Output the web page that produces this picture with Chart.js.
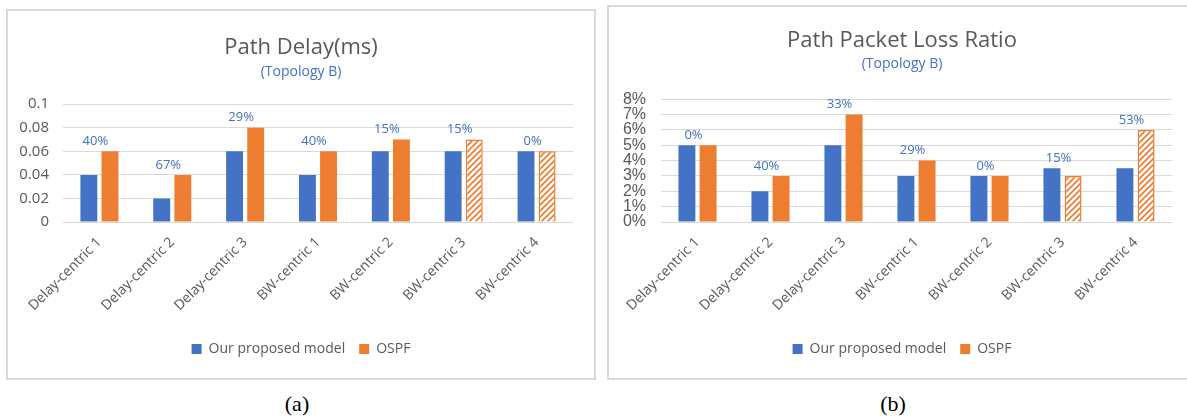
<!DOCTYPE html>
<html><head><meta charset="utf-8">
<script src="https://cdn.jsdelivr.net/npm/chart.js@4.4.0/dist/chart.umd.min.js"></script>
<style>
html,body{margin:0;padding:0;background:#fff;width:1187px;height:419px;overflow:hidden;position:relative;}
.box{position:absolute;border:2px solid #d9d9d9;box-sizing:border-box;background:#fff;overflow:hidden;}
.box canvas{position:absolute;left:0;top:0;}
.cap{position:absolute;font-family:"Liberation Serif",serif;font-size:22px;color:#000;transform:translateX(-50%);}
</style></head><body>
<div class="box" style="left:6px;top:9px;width:590px;height:371px;"><canvas id="cA" width="586" height="367" style="width:586px;height:367px"></canvas></div>
<div class="box" style="left:607px;top:5px;width:590px;height:375px;"><canvas id="cB" width="586" height="371" style="width:586px;height:371px"></canvas></div>
<div class="cap" style="left:297px;top:391px;">(a)</div>
<div class="cap" style="left:893px;top:391px;">(b)</div>
<script>
const categories = ['Delay-centric 1','Delay-centric 2','Delay-centric 3','BW-centric 1','BW-centric 2','BW-centric 3','BW-centric 4'];
const seriesNames = ['Our proposed model','OSPF'];
const delayProposed = [0.04,0.02,0.06,0.04,0.06,0.06,0.06];
const delayOSPF     = [0.06,0.04,0.08,0.06,0.07,0.07,0.06];
const delayGain     = ['40%','67%','29%','40%','15%','15%','0%'];
const lossProposed  = [5,2,5,3,3,3.5,3.5];
const lossOSPF      = [5,3,7,4,3,3,6];
const lossGain      = ['0%','40%','33%','29%','0%','15%','53%'];
const hatchedOSPF   = [false,false,false,false,false,true,true];
const delayTicks    = [0,0.02,0.04,0.06,0.08,0.1];
const lossTicks     = [0,1,2,3,4,5,6,7,8];

const BLUE='#4472C4', ORANGE='#ED7D31', GREY='#595959', GRID='#d9d9d9';
const FONT='"Open Sans", sans-serif';

function makeHatch(){
  const c=document.createElement('canvas'); c.width=6; c.height=6;
  const g=c.getContext('2d');
  g.fillStyle='#fff'; g.fillRect(0,0,6,6);
  g.strokeStyle=ORANGE; g.lineWidth=1.7;
  g.beginPath();
  g.moveTo(-1,7); g.lineTo(7,-1);
  g.moveTo(-4,4); g.lineTo(4,-4);
  g.moveTo(2,10); g.lineTo(10,2);
  g.stroke();
  return g.createPattern(c,'repeat');
}
const hatch = makeHatch();

const gainLabels = {
  id:'gainLabels',
  afterDatasetsDraw(chart, args, opts){
    const {ctx, scales:{x,y}} = chart;
    const a = chart.data.datasets[0].data, b = chart.data.datasets[1].data;
    ctx.save();
    ctx.font = '13px '+FONT; ctx.fillStyle = BLUE;
    ctx.textAlign='center'; ctx.textBaseline='middle';
    opts.labels.forEach((t,i)=>{
      const top = y.getPixelForValue(Math.max(a[i],b[i]));
      ctx.fillText(t, x.getPixelForValue(i)-4, top-10);
    });
    ctx.restore();
  }
};

function build(id, cfg){
  return new Chart(document.getElementById(id), {
    type:'bar',
    data:{
      labels:categories,
      datasets:[
        {label:seriesNames[0], data:cfg.a, backgroundColor:BLUE, borderWidth:0},
        {label:seriesNames[1], data:cfg.b,
         backgroundColor: c => (c.type==='data' && hatchedOSPF[c.dataIndex]) ? hatch : ORANGE,
         borderColor: ORANGE,
         borderWidth: c => (c.type==='data' && hatchedOSPF[c.dataIndex]) ? 1.5 : 0}
      ]
    },
    plugins:[gainLabels],
    options:{
      responsive:false, animation:false,
      datasets:{bar:{categoryPercentage:0.58, barPercentage:0.8}},
      layout:{padding:{left:0,right:0,top:0,bottom:12}},
      plugins:{
        gainLabels:{labels:cfg.gain},
        title:{display:true, text:cfg.title, color:GREY, font:{family:FONT,size:22,weight:'normal'}, padding:{top:cfg.tTop,bottom:0}},
        subtitle:{display:true, text:'(Topology B)', color:BLUE, font:{family:FONT,size:14,weight:'normal'}, padding:{top:cfg.sTop,bottom:cfg.sBot}},
        legend:{position:'bottom', labels:{color:GREY, font:{family:FONT,size:14}, boxWidth:10, boxHeight:10, padding:14}},
        tooltip:{enabled:false}
      },
      scales:{
        x:{grid:{display:false}, border:{display:false},
           ticks:{color:GREY, font:{family:FONT,size:14}, minRotation:45, maxRotation:45, padding:4, autoSkip:false},
           afterFit:s=>{s.height=106;}},
        y:{min:0, max:cfg.max, grid:{color:GRID, lineWidth:1, drawTicks:false}, border:{display:false},
           afterBuildTicks:s=>{s.ticks=cfg.ticks.map(v=>({value:v}));},
           ticks:{color:GREY, font:cfg.tickFont, padding:cfg.tickPad, callback:cfg.fmt, autoSkip:false},
           afterFit:s=>{s.width=cfg.yW;}},
        yPad:{position:'right', min:0, max:1, grid:{display:false}, border:{display:false},
           ticks:{display:false}, afterFit:s=>{s.width=cfg.padR;}}
      }
    }
  });
}

build('cA',{a:delayProposed,b:delayOSPF,gain:delayGain,title:'Path Delay(ms)',max:0.1,ticks:delayTicks,
  fmt:v=>String(+(+v).toFixed(2)), tickFont:{family:FONT,size:15}, tickPad:14, yW:55, padR:21, tTop:24, sTop:2, sBot:24});
build('cB',{a:lossProposed,b:lossOSPF,gain:lossGain,title:'Path Packet Loss Ratio',max:8,ticks:lossTicks,
  fmt:v=>v+'%', tickFont:{family:'"Liberation Sans", Arial, sans-serif',size:16}, tickPad:15, yW:52, padR:23, tTop:21, sTop:1, sBot:27});
</script>
</body></html>
